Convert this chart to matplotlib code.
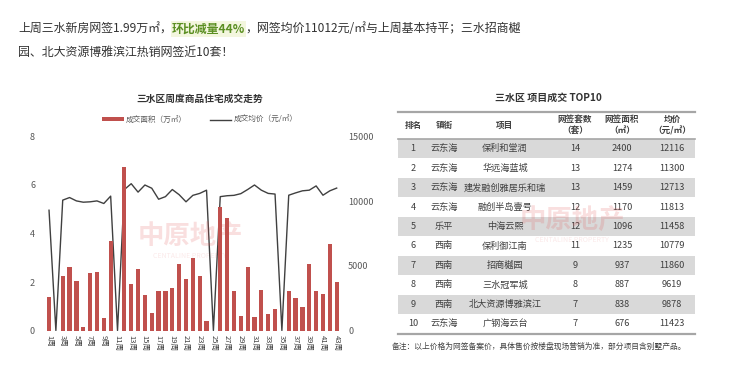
import matplotlib
matplotlib.use('Agg')
import matplotlib.pyplot as plt
from matplotlib.patches import Patch, Rectangle
from matplotlib.lines import Line2D

plt.rcParams['font.family'] = ['Noto Sans CJK SC', 'DejaVu Sans']

# weekly data (Sanshui district)
weeks = list(range(1, 44))
area = [1.4, 0, 2.25, 2.6, 2.03, 0.14, 2.38, 2.42, 0.53, 3.68, 0, 6.73, 1.9, 2.55,
        1.45, 0.71, 1.61, 1.61, 1.75, 2.74, 2.14, 2.99, 2.24, 0.41, 0, 5.1, 4.62,
        1.62, 0.6, 2.6, 0.55, 1.66, 0.66, 0.88, 0, 1.62, 1.33, 0.98, 2.74, 1.61,
        1.52, 3.55, 1.99]
price = [9300, 0, 10080, 10280, 10020, 9920, 9950, 10020, 9820, 10390, 0, 10900,
         11350, 10700, 11250, 11000, 10150, 10350, 10900, 10500, 9950, 10450, 10600,
         10850, 0, 10350, 10420, 10450, 10580, 10900, 11250, 10850, 10600, 10550, 0,
         10460, 10640, 10800, 10850, 11180, 10460, 10800, 11012]
week_labels = [f'{w}周' if w % 2 == 1 else '' for w in weeks]

# top10 table
rank = ['1', '2', '3', '4', '5', '6', '7', '8', '9', '10']
town = ['云东海', '云东海', '云东海', '云东海', '乐平', '西南', '西南', '西南', '西南', '云东海']
project = ['保利和堂润', '华远海蓝城', '建发融创雅居乐和瑞', '融创半岛壹号', '中海云熙',
           '保利御江南', '招商樾园', '三水冠军城', '北大资源博雅滨江', '广钢海云台']
units = [14, 13, 13, 12, 12, 11, 9, 8, 7, 7]
sq = [2400, 1274, 1459, 1170, 1096, 1235, 937, 887, 838, 676]
avg = [12116, 11300, 12713, 11813, 11458, 10779, 11860, 9619, 9878, 11423]
headers = ['排名', '镇街', '项目', '网签套数\n（套）', '网签面积\n（㎡）', '均价\n（元/㎡）']

W, H = 731, 365
fig = plt.figure(figsize=(W / 100, H / 100), dpi=100)

# ---- header text ----
txt_col = '#333333'
renderer = fig.canvas.get_renderer()
y1 = 1 - 29 / H
y2 = 1 - 52 / H
fs = 8.6
t1 = fig.text(18 / W, y1, '上周三水新房网签1.99万㎡，', fontsize=fs, color=txt_col, va='center')
x = t1.get_window_extent(renderer).x1 / W
t2 = fig.text(x, y1, '环比减量44%', fontsize=fs, color='#5b8f22', fontweight='bold', va='center',
              bbox=dict(boxstyle='square,pad=0.1', fc='#f3f6de', ec='none'))
x = t2.get_window_extent(renderer).x1 / W
fig.text(x, y1, '，网签均价11012元/㎡与上周基本持平；三水招商樾', fontsize=fs, color=txt_col, va='center')
fig.text(18 / W, y2, '园、北大资源博雅滨江热销网签近10套！', fontsize=fs, color=txt_col, va='center')

# ---- chart ----
bar_col = '#C0504D'
line_col = '#404040'
tick_col = '#595959'
ax = fig.add_axes([45.6 / W, 34.5 / H, 294.5 / W, 194 / H])
ax2 = ax.twinx()
ax.bar(weeks, area, width=0.62, color=bar_col, zorder=3)
ax2.plot(weeks, price, color=line_col, lw=1.0)
ax.set_zorder(ax2.get_zorder() + 1)
ax.patch.set_visible(False)

ax.set_xlim(0.5, 43.5)
ax.set_ylim(0, 8)
ax2.set_ylim(0, 15000)
ax.set_yticks([0, 2, 4, 6, 8])
ax2.set_yticks([0, 5000, 10000, 15000])
ax.set_xticks(weeks)
ax.set_xticklabels(week_labels, rotation=270, fontsize=5.5, color='#404040')
ax.tick_params(axis='x', length=0, pad=3)
ax.tick_params(axis='y', length=0, pad=7.6, labelsize=6.5, labelcolor=tick_col)
ax2.tick_params(axis='y', length=0, pad=5.8, labelsize=6.5, labelcolor=tick_col)
for a in (ax, ax2):
    for s in a.spines.values():
        s.set_visible(False)

fig.text(200 / W, 1 - 99 / H, '三水区周度商品住宅成交走势', fontsize=7, fontweight='bold',
         color='#333333', ha='center', va='center')
handles = [Patch(facecolor=bar_col, edgecolor='none'),
           Line2D([], [], color=line_col, lw=1.0)]
fig.legend(handles, ['成交面积（万㎡）', '成交均价（元/㎡）'], loc='center',
           bbox_to_anchor=(200 / W, 1 - 120 / H), ncol=2, frameon=False, fontsize=5.5,
           handlelength=2.8, handleheight=0.35, columnspacing=3.0, handletextpad=0.3,
           labelcolor='#595959')

# ---- table (overlay in pixel units) ----
ov = fig.add_axes([0, 0, 1, 1])
ov.set_xlim(0, W)
ov.set_ylim(H, 0)
ov.axis('off')
ov.patch.set_visible(False)

tx0, tx1 = 398, 695
col_x = [413, 444, 505, 575, 622, 672]
row_h = 19.45
body_top = 139.0
ov.text((tx0 + tx1) / 2 + 2, 98, '三水区 项目成交 TOP10', fontsize=7.2, fontweight='bold',
        color='#333333', ha='center', va='center')
ov.plot([tx0, tx1], [111.7, 111.7], color='#a6a6a6', lw=1.6)
for cx, h in zip(col_x, headers):
    ov.text(cx, 125, h, fontsize=6.2, fontweight='bold', color='#404040', ha='center',
            va='center', linespacing=1.25)
ov.plot([tx0, tx1], [138.5, 138.5], color='#a6a6a6', lw=1.2)
for i in range(len(rank)):
    top = body_top + i * row_h
    if i % 2 == 0:
        ov.add_patch(Rectangle((tx0, top), tx1 - tx0, row_h, facecolor='#d9d9d9',
                               edgecolor='none', zorder=0))
    cy = top + row_h / 2
    vals = [rank[i], town[i], project[i], str(units[i]), str(sq[i]), str(avg[i])]
    for cx, v in zip(col_x, vals):
        ov.text(cx, cy, v, fontsize=6.6, color='#404040', ha='center', va='center')
ov.plot([tx0, tx1], [body_top + 10 * row_h, body_top + 10 * row_h], color='#a6a6a6', lw=1.6)
ov.text(392, 347, '备注：以上价格为网签备案价，具体售价按楼盘现场营销为准，部分项目含别墅产品。',
        fontsize=5.6, color='#404040', ha='left', va='center')

# watermarks
for wx, wy in [(190, 236), (572, 220)]:
    ov.text(wx, wy, '中原地产', fontsize=19, fontweight='bold', color='#e05050',
            alpha=0.18, ha='center', va='center')
    ov.text(wx, wy + 20, 'CENTALINE PROPERTY', fontsize=5, color='#e05050',
            alpha=0.12, ha='center', va='center')

fig.savefig('out.png', dpi=100)
